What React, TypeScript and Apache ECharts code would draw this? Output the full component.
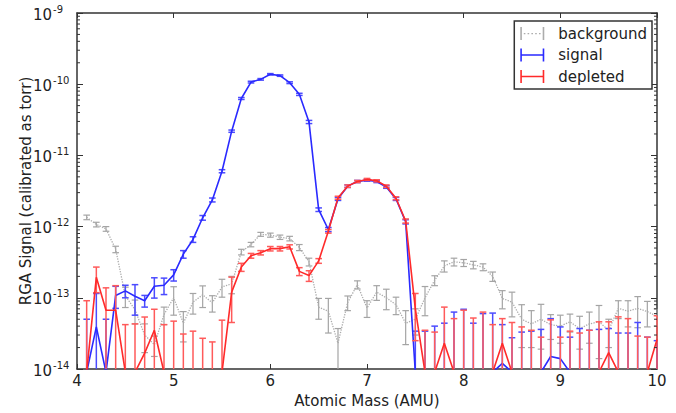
import React, { useEffect, useRef } from 'react';
import * as echarts from 'echarts';

const masses = [
  4.1, 4.2, 4.3, 4.4, 4.5, 4.6, 4.7, 4.8, 4.9, 5.0,
  5.1, 5.2, 5.3, 5.4, 5.5, 5.6, 5.7, 5.8, 5.9, 6.0,
  6.1, 6.2, 6.3, 6.4, 6.5, 6.6, 6.7, 6.8, 6.9, 7.0,
  7.1, 7.2, 7.3, 7.4, 7.5, 7.6, 7.7, 7.8, 7.9, 8.0,
  8.1, 8.2, 8.3, 8.4, 8.5, 8.6, 8.7, 8.8, 8.9, 9.0,
  9.1, 9.2, 9.3, 9.4, 9.5, 9.6, 9.7, 9.8, 9.9, 10.0,
];

const backgroundValues = [
  1.35e-12, 1.07e-12, 9.3e-13, 4.8e-13, 1.07e-13, 6.8e-14, 3.0e-14, 2.2e-14, 5.8e-14, 1.0e-13,
  4.4e-14, 8.7e-14, 1.1e-13, 8.5e-14, 1.42e-13, 1.57e-13, 4.4e-13, 5.6e-13, 7.8e-13, 7.6e-13,
  7.1e-13, 6.8e-13, 5.1e-13, 3.2e-13, 7.4e-14, 6.5e-14, 2.3e-14, 8.6e-14, 1.53e-13, 7.2e-14,
  1.2e-13, 1.0e-13, 8.0e-14, 4.4e-14, 5.0e-14, 1.0e-13, 1.76e-13, 2.8e-13, 3.2e-13, 3.1e-13,
  2.9e-13, 2.7e-13, 2.0e-13, 9.8e-14, 8.7e-14, 5.0e-14, 4.3e-14, 5.0e-14, 4.2e-14, 4.0e-14,
  4.6e-14, 3.7e-14, 4.3e-14, 4.6e-14, 3.5e-14, 7.1e-14, 6.5e-14, 7.1e-14, 6.4e-14, 5.5e-14,
];
const backgroundErrors = [
  1.0e-13, 8.0e-14, 7.0e-14, 5.0e-14, 3.4e-14, 2.5e-14, 1.3e-14, 7.0e-15, 1.6e-14, 4.3e-14,
  2.0e-14, 2.8e-14, 3.7e-14, 2.2e-14, 4.0e-14, 4.3e-14, 4.0e-14, 4.0e-14, 5.0e-14, 5.0e-14,
  5.0e-14, 5.0e-14, 5.0e-14, 4.0e-14, 2.4e-14, 3.3e-14, 1.4e-14, 2.0e-14, 2.0e-14, 1.9e-14,
  2.8e-14, 3.2e-14, 2.2e-14, 2.2e-14, 2.0e-14, 4.4e-14, 2.8e-14, 5.0e-14, 4.0e-14, 3.5e-14,
  3.5e-14, 3.0e-14, 3.0e-14, 2.8e-14, 3.3e-14, 3.0e-14, 2.3e-14, 3.1e-14, 1.6e-14, 1.7e-14,
  1.3e-14, 1.8e-14, 2.0e-14, 3.2e-14, 1.5e-14, 2.0e-14, 2.6e-14, 3.3e-14, 2.5e-14, 1.5e-14,
];

const signalValues = [
  0, 3.9e-14, 0, 1.08e-13, 1.25e-13, 1.05e-13, 9.1e-14, 1.45e-13, 1.5e-13, 2.1e-13,
  4.1e-13, 6.6e-13, 1.33e-12, 2.37e-12, 6.0e-12, 2.19e-11, 6.3e-11, 1.07e-10, 1.17e-10, 1.38e-10,
  1.32e-10, 1.05e-10, 7.2e-11, 2.95e-11, 1.73e-12, 9.1e-13, 2.45e-12, 3.7e-12, 4.3e-12, 4.5e-12,
  4.3e-12, 3.6e-12, 2.45e-12, 1.17e-12, 0, 0, 0, 0, 0, 0,
  0, 0, 0, 1.2e-14, 0, 0, 0, 0, 1.5e-14, 1.4e-14,
  0, 0, 0, 0, 0, 0, 0, 0, 0, 0,
];
const signalErrors = [
  5.0e-14, 7.6e-14, 5.0e-14, 3.7e-14, 2.5e-14, 4.8e-14, 1.7e-14, 4.6e-14, 3.9e-14, 3.8e-14,
  5.0e-14, 6.0e-14, 1.0e-13, 1.5e-13, 3.0e-13, 8.0e-13, 2.0e-12, 3.0e-12, 3.0e-12, 3.0e-12,
  3.0e-12, 3.0e-12, 2.5e-12, 1.5e-12, 1.0e-13, 6.0e-14, 1.2e-13, 1.5e-13, 1.5e-13, 1.5e-13,
  1.5e-13, 1.5e-13, 1.2e-13, 8.0e-14, 3.4e-14, 3.4e-14, 4.0e-14, 4.4e-14, 6.3e-14, 6.9e-14,
  4.4e-14, 6.0e-14, 6.1e-14, 3.0e-14, 2.75e-14, 3.3e-14, 3.4e-14, 3.6e-14, 3.6e-14, 2.5e-14,
  2.8e-14, 3.7e-14, 3.5e-14, 3.6e-14, 3.7e-14, 3.2e-14, 3.2e-14, 4.5e-14, 2.8e-14, 2.5e-14,
];

const depletedValues = [
  0, 1.94e-13, 6.7e-14, 6.7e-14, 0, 0, 1.67e-14, 3.5e-14, 0, 0,
  0, 0, 0, 0, 0, 1.2e-13, 2.7e-13, 3.9e-13, 4.3e-13, 4.9e-13,
  4.9e-13, 5.2e-13, 2.35e-13, 2.05e-13, 3.3e-13, 8.6e-13, 2.55e-12, 3.7e-12, 4.3e-12, 4.6e-12,
  4.4e-12, 3.7e-12, 2.5e-12, 1.2e-12, 7.0e-14, 0, 0, 2.3e-14, 0, 0,
  0, 0, 0, 2.3e-14, 0, 0, 0, 0, 0, 0,
  0, 0, 0, 0, 1.7e-14, 0, 0, 0, 0, 2.6e-14,
];
const depletedErrors = [
  9.1e-14, 7.6e-14, 7.1e-14, 8.1e-14, 4.2e-14, 4.3e-14, 3.7e-14, 3.4e-14, 4.2e-14, 4.7e-14,
  3.1e-14, 3.4e-14, 2.7e-14, 2.4e-14, 4.85e-14, 7.5e-14, 3.5e-14, 3.0e-14, 3.0e-14, 3.5e-14,
  3.5e-14, 3.5e-14, 3.0e-14, 3.5e-14, 2.5e-14, 5.0e-14, 1.2e-13, 1.5e-13, 1.5e-13, 1.5e-13,
  1.5e-13, 1.5e-13, 1.2e-13, 8.0e-14, 4.5e-14, 3.5e-14, 3.3e-14, 5.1e-14, 5.1e-14, 6.7e-14,
  5.2e-14, 6.3e-14, 4.2e-14, 2.8e-14, 4.5e-14, 3.9e-14, 3.5e-14, 2.8e-14, 4.9e-14, 2.8e-14,
  3.4e-14, 3.2e-14, 3.5e-14, 4.6e-14, 2.9e-14, 5.4e-14, 5.1e-14, 2.9e-14, 2.8e-14, 3.0e-14,
];

const legendNames = ['background', 'signal', 'depleted'];
const decades = [1e-14, 1e-13, 1e-12, 1e-11, 1e-10];
const minorMultipliers = [2, 3, 4, 5, 6, 7, 8, 9];

// non-positive readings are drawn just below the axis floor (clipped), as in the source plot
const FLOOR = 9e-15;
const FONT = 'DejaVu Sans';
const TEXT = '#222';
const AXIS = '#333';

const COLORS = {
  background: { line: '#acacac', bar: '#a4a4a4', width: 1.2 },
  signal: { line: '#2a2aff', bar: '#4b4bff', width: 1.5 },
  depleted: { line: '#ff2a2a', bar: '#ff5a5a', width: 1.5 },
};

function lineData(values: number[]) {
  return masses.map((m, i) => [m, values[i] > 0 ? values[i] : FLOOR]);
}

function errData(values: number[], errs: number[]) {
  return masses.map((m, i) => {
    const lo = values[i] - errs[i];
    const hi = values[i] + errs[i];
    return [m, lo > 0 ? lo : FLOOR, hi > 0 ? hi : FLOOR];
  });
}

function errorBarSeries(name: string, values: number[], errs: number[], color: string, width: number, z: number) {
  return {
    type: 'custom',
    name,
    z,
    silent: true,
    data: errData(values, errs),
    encode: { x: 0, y: [1, 2] },
    renderItem: (params: any, api: any) => {
      const cs = params.coordSys;
      const x = api.value(0);
      const lo = api.value(1);
      const hi = api.value(2);
      const pTop = api.coord([x, hi]);
      const pBot = api.coord([x, lo]);
      const yMin = cs.y;
      const yMax = cs.y + cs.height;
      const xMin = cs.x;
      const xMax = cs.x + cs.width;
      const style = { stroke: color, lineWidth: width };
      const children: any[] = [];
      const y1 = Math.max(pTop[1], yMin);
      const y2 = Math.min(pBot[1], yMax);
      const cx = pTop[0];
      if (y2 > y1) {
        children.push({ type: 'line', shape: { x1: cx, y1, x2: cx, y2 }, style });
      }
      const cw = 3.3;
      const cl = Math.max(cx - cw, xMin);
      const cr = Math.min(cx + cw, xMax);
      if (pTop[1] >= yMin && pTop[1] < yMax - 0.5) {
        children.push({ type: 'line', shape: { x1: cl, y1: pTop[1], x2: cr, y2: pTop[1] }, style });
      }
      if (pBot[1] >= yMin && pBot[1] < yMax - 0.5) {
        children.push({ type: 'line', shape: { x1: cl, y1: pBot[1], x2: cr, y2: pBot[1] }, style });
      }
      return { type: 'group', children };
    },
  };
}

function lineSeries(name: string, values: number[], color: string, z: number, dotted: boolean) {
  return {
    type: 'line',
    name,
    z,
    data: lineData(values),
    showSymbol: false,
    symbol: 'none',
    clip: true,
    silent: true,
    itemStyle: { color },
    lineStyle: { color, width: dotted ? 1.3 : 1.6, type: dotted ? 'dotted' : 'solid' },
  };
}

const minorTickData: number[][] = [];
decades.forEach((d) => minorMultipliers.forEach((m) => minorTickData.push([4, d * m])));

const ICON_SOLID = 'path://M0,0h1.6v13h-1.6z M0,5.8h24v1.5h-24z M22.4,0h1.6v13h-1.6z';
const ICON_DOTTED =
  'path://M0,0h1.6v13h-1.6z M22.4,0h1.6v13h-1.6z M3.5,5.9h1.6v1.3h-1.6z M7.3,5.9h1.6v1.3h-1.6z M11.1,5.9h1.6v1.3h-1.6z M14.9,5.9h1.6v1.3h-1.6z M18.7,5.9h1.6v1.3h-1.6z';

export default function App() {
  const ref = useRef<HTMLDivElement>(null);

  useEffect(() => {
    if (!ref.current) return;
    const chart = echarts.init(ref.current, undefined, { renderer: 'svg' });

    const axisLine = { show: true, onZero: false, lineStyle: { color: AXIS, width: 1.5 } };

    const option: any = {
      animation: false,
      backgroundColor: '#fff',
      grid: { left: 77, right: 19, top: 13, bottom: 40, containLabel: false },
      legend: {
        orient: 'vertical',
        right: 24,
        top: 21,
        data: [
          { name: legendNames[0], icon: ICON_DOTTED },
          { name: legendNames[1], icon: ICON_SOLID },
          { name: legendNames[2], icon: ICON_SOLID },
        ],
        itemWidth: 24,
        itemHeight: 13,
        itemGap: 6.5,
        itemStyle: { borderWidth: 0 },
        padding: [5, 5, 5, 6],
        borderColor: AXIS,
        borderWidth: 1.5,
        backgroundColor: '#fff',
        selectedMode: false,
        textStyle: { fontSize: 15, color: TEXT, fontFamily: FONT, lineHeight: 15, padding: [0, 0, 0, 9] },
        z: 20,
      },
      xAxis: [
        {
          type: 'value',
          min: 4,
          max: 10,
          interval: 1,
          position: 'bottom',
          name: 'Atomic Mass (AMU)',
          nameLocation: 'middle',
          nameGap: 24,
          nameMoveOverlap: false,
          nameTextStyle: { fontSize: 15, lineHeight: 15, color: TEXT, fontFamily: FONT },
          axisLine,
          axisTick: { show: true, inside: true, length: 5, lineStyle: { color: AXIS, width: 1 } },
          axisLabel: { fontSize: 15, lineHeight: 15, color: TEXT, fontFamily: FONT, margin: 4 },
          splitLine: { show: false },
        },
        {
          type: 'value',
          min: 4,
          max: 10,
          interval: 1,
          position: 'top',
          axisLine,
          axisTick: { show: true, inside: true, length: 5, lineStyle: { color: AXIS, width: 1 } },
          axisLabel: { show: false },
          splitLine: { show: false },
        },
      ],
      yAxis: [
        {
          type: 'log',
          logBase: 10,
          min: 1e-14,
          max: 1e-9,
          splitNumber: 5,
          position: 'left',
          name: 'RGA Signal (calibrated as torr)',
          nameLocation: 'middle',
          nameGap: 44,
          nameMoveOverlap: false,
          nameTextStyle: { fontSize: 15, lineHeight: 15, color: TEXT, fontFamily: FONT },
          axisLine,
          axisTick: { show: true, inside: true, length: 6, lineStyle: { color: AXIS, width: 1 } },
          axisLabel: {
            margin: 44,
            align: 'left',
            formatter: (v: number) => `{b|10}{s|${Math.round(Math.log10(v))}}`,
            rich: {
              b: { fontSize: 15, color: TEXT, fontFamily: FONT, verticalAlign: 'bottom' },
              s: { fontSize: 10, color: TEXT, fontFamily: FONT, verticalAlign: 'bottom', padding: [0, 0, 8, 1] },
            },
          },
          splitLine: { show: false },
        },
        {
          type: 'log',
          logBase: 10,
          min: 1e-14,
          max: 1e-9,
          splitNumber: 5,
          position: 'right',
          axisLine,
          axisTick: { show: true, inside: true, length: 6, lineStyle: { color: AXIS, width: 1 } },
          axisLabel: { show: false },
          splitLine: { show: false },
        },
      ],
      series: [
        lineSeries(legendNames[0], backgroundValues, COLORS.background.line, 2, true),
        errorBarSeries('background-err', backgroundValues, backgroundErrors, COLORS.background.bar, COLORS.background.width, 2),
        errorBarSeries('signal-err', signalValues, signalErrors, COLORS.signal.bar, COLORS.signal.width, 3),
        lineSeries(legendNames[1], signalValues, COLORS.signal.line, 3, false),
        errorBarSeries('depleted-err', depletedValues, depletedErrors, COLORS.depleted.bar, COLORS.depleted.width, 4),
        lineSeries(legendNames[2], depletedValues, COLORS.depleted.line, 4, false),
        {
          type: 'custom',
          name: 'minor-ticks',
          silent: true,
          z: 10,
          data: minorTickData,
          encode: { x: 0, y: 1 },
          renderItem: (params: any, api: any) => {
            const cs = params.coordSys;
            const p = api.coord([api.value(0), api.value(1)]);
            const style = { stroke: AXIS, lineWidth: 1 };
            return {
              type: 'group',
              children: [
                { type: 'line', shape: { x1: cs.x, y1: p[1], x2: cs.x + 3, y2: p[1] }, style },
                { type: 'line', shape: { x1: cs.x + cs.width, y1: p[1], x2: cs.x + cs.width - 3, y2: p[1] }, style },
              ],
            };
          },
        },
      ],
    };

    chart.setOption(option);
    return () => chart.dispose();
  }, []);

  return (
    <div
      ref={ref}
      style={{ position: 'fixed', left: 0, top: 0, width: 676, height: 413, background: '#fff' }}
    />
  );
}
